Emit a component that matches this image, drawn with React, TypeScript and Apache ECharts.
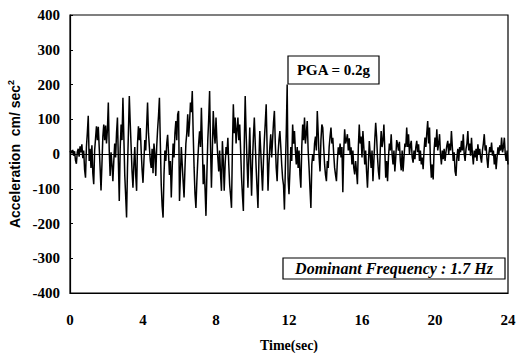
import React, { useEffect, useRef } from "react";
import * as echarts from "echarts";

// Time step of the digitised record (seconds)
const DT = 0.05;

// Acceleration (cm/sec^2), 0 - 5.95 s
const acc0to6 = [
  5, 10, 2, 12, -5, 8, -18, -28, 6, 15, -8, 22, 5, 28, -12, 10, -45, -68, 20, 60,
  110, -20, 15, -40, 25, -55, -87, 10, 45, 80, 40, 78, 20, -40, -105, -30, 50, 85, 40, 82,
  30, 70, 148, 10, -63, 5, -30, -78, -20, 30, -10, 60, 105, -20, -135, 15, 85, 40, 162, 50,
  -60, -120, -183, -40, 60, 167, 90, 20, -50, -97, -30, 20, -60, -106, 30, 80, 40, 75, 10, -45,
  -83, -20, 40, 10, 80, 148, 60, 20, -20, -40, 15, -55, 30, 0, -63, 20, 70, 110, 162, 30,
  -90, -150, -183, -60, 10, -20, 30, 55, 0, -60, -20, -125, -40, 30, -10, 60, 95, 40, 114, 124,
];

// 6.00 - 11.95 s
const acc6to12 = [
  -135, -60, 20, -30, -80, -125, -40, 30, 60, 114, 50, 90, 148, 120, 181, 60, -40, -116, -155, -80,
  -20, 30, 65, 20, 133, 30, -87, -30, -100, -178, -60, 40, 100, 181, 20, -97, 10, 124, 60, 30,
  105, 40, -10, -50, 10, -60, -106, 37, -20, -106, -30, 20, 0, 47, -30, -90, -120, -155, 20, 143,
  60, 105, 30, 70, 105, 40, 85, 10, -68, -120, -164, 30, 167, 60, -20, -97, -10, 76, -30, -120,
  -20, 50, 105, 30, -40, -100, -155, -20, 66, 10, -50, -106, -20, 40, 90, 143, 20, -106, -30, 20,
  57, -10, 40, 90, 124, 30, -40, -78, 0, 40, 66, 20, -30, -70, -90, -160, -40, 60, 200, -70,
];

// 12.00 - 17.95 s
const acc12to18 = [
  -116, -50, 20, -20, 85, 30, 66, 10, -30, 20, -40, 10, -60, -97, 20, 85, 40, 105, 30, 60,
  95, 10, -40, -100, -155, -30, 0, -20, 30, 50, 10, 124, 60, -10, -50, 40, 85, 76, 20, -30,
  -60, -78, -20, -40, 20, 50, 76, 30, 47, 0, -40, -60, -78, -20, 19, 0, 30, -10, 20, -110,
  10, 71, 30, 40, 57, 10, 45, 0, 19, -30, 10, -40, -59, -20, -50, -87, 20, 85, 30, 50,
  -10, 66, 20, -30, 10, -50, -97, -30, 37, 0, -40, 10, -78, -20, 40, 90, 50, -10, -50, -73,
  10, 66, 20, 40, 85, 10, -68, -20, -78, -10, 30, 10, 57, 0, -30, 10, -50, -10, 40, 28,
];

// 18.00 - 24.00 s
const acc18to24 = [
  10, 35, -20, -47, 10, -50, -10, 30, 20, 76, 20, 57, 0, 25, 38, -10, -25, 10, -15, 20,
  38, 5, 28, -20, 10, -30, -10, -44, 10, 47, 20, 60, 95, 30, 76, -20, -68, -30, -73, 10,
  47, 20, 71, 10, 30, 57, 0, -30, 10, -15, 15, -20, 5, 25, 38, 0, 30, 10, 66, 20,
  -20, 5, -50, -63, -10, 15, -20, 20, 5, 38, 10, 57, 0, -20, 15, 30, 66, 10, 30, -5,
  47, 0, -30, 10, -10, 15, -20, 28, 0, 15, -10, -25, 10, 30, 57, 10, 25, -15, -40, 0,
  20, 5, 33, -5, 10, -30, 0, -44, -10, 19, 0, 25, 10, 47, 5, 20, 47, 0, -20, 10,
  -30,
];

const xTicks = { min: 0, max: 24, interval: 4 };
const yTicks = { min: -400, max: 400, interval: 100 };

const xTitle = "Time(sec)";
const yTitle = "Acceleration  cm/ sec";
const pgaText = "PGA = 0.2g";
const freqText = "Dominant Frequency : 1.7 Hz";

export default function App() {
  const ref = useRef<HTMLDivElement>(null);

  useEffect(() => {
    if (!ref.current) return;
    const chart = echarts.init(ref.current, null, { renderer: "svg" });
    const values = [...acc0to6, ...acc6to12, ...acc12to18, ...acc18to24];
    const data = values.map((v, i) => [Number((i * DT).toFixed(2)), v]);

    const tickFont = {
      color: "#000",
      fontFamily: "Liberation Serif",
      fontWeight: "bold" as const,
      fontSize: 15,
    };

    chart.setOption({
      animation: false,
      backgroundColor: "#fff",
      grid: {
        left: 70,
        right: 8,
        top: 15,
        bottom: 60,
        show: true,
        borderColor: "#000",
        borderWidth: 1.2,
        containLabel: false,
        outerBoundsMode: "none",
      },
      xAxis: {
        type: "value",
        min: xTicks.min,
        max: xTicks.max,
        interval: xTicks.interval,
        splitLine: { show: false },
        axisTick: { show: false },
        axisLine: { show: true, onZero: false, lineStyle: { color: "#000", width: 1.2 } },
        axisLabel: { ...tickFont, margin: 19 },
        name: xTitle,
        nameLocation: "middle",
        nameGap: 45,
        nameTextStyle: {
          color: "#000",
          fontFamily: "Liberation Serif",
          fontWeight: "bold",
          fontSize: 14,
        },
      },
      yAxis: {
        type: "value",
        min: yTicks.min,
        max: yTicks.max,
        interval: yTicks.interval,
        splitLine: { show: false },
        axisTick: { show: true, inside: true, length: 3, lineStyle: { color: "#000" } },
        axisLine: { show: true, lineStyle: { color: "#000", width: 1.2 } },
        axisLabel: { ...tickFont, margin: 10 },
        name: yTitle + "{sup|2}",
        nameLocation: "middle",
        nameGap: 44,
        nameTextStyle: {
          color: "#000",
          fontFamily: "Liberation Sans",
          fontWeight: "bold",
          fontSize: 14,
          rich: {
            sup: {
              fontFamily: "Liberation Sans",
              fontWeight: "bold",
              fontSize: 9,
              verticalAlign: "top",
              padding: [0, 0, 8, 0],
              color: "#000",
            },
          },
        },
      },
      series: [
        {
          type: "line",
          data,
          showSymbol: false,
          symbol: "none",
          lineStyle: { color: "#000", width: 1.5 },
          markLine: {
            silent: true,
            symbol: "none",
            label: { show: false },
            lineStyle: { color: "#000", width: 1, type: "solid" },
            data: [{ yAxis: 0 }],
          },
        },
      ],
      graphic: [
        {
          type: "rect",
          z: 100,
          shape: { x: 288, y: 56, width: 91, height: 28 },
          style: { fill: "#fff", stroke: "#000", lineWidth: 1.2 },
        },
        {
          type: "text",
          z: 101,
          x: 333.5,
          y: 70,
          style: {
            text: pgaText,
            fill: "#000",
            fontFamily: "Liberation Serif",
            fontWeight: "bold",
            fontSize: 15,
            align: "center",
            verticalAlign: "middle",
          },
        },
        {
          type: "rect",
          z: 100,
          shape: { x: 283, y: 258, width: 222, height: 21 },
          style: { fill: "#fff", stroke: "#000", lineWidth: 1.2 },
        },
        {
          type: "text",
          z: 101,
          x: 394,
          y: 268.5,
          style: {
            text: freqText,
            fill: "#000",
            fontFamily: "Liberation Serif",
            fontWeight: "bold",
            fontStyle: "italic",
            fontSize: 16,
            align: "center",
            verticalAlign: "middle",
          },
        },
      ],
    });
    return () => chart.dispose();
  }, []);

  return (
    <div
      ref={ref}
      style={{ position: "fixed", left: 0, top: 0, width: 516, height: 353 }}
    />
  );
}
